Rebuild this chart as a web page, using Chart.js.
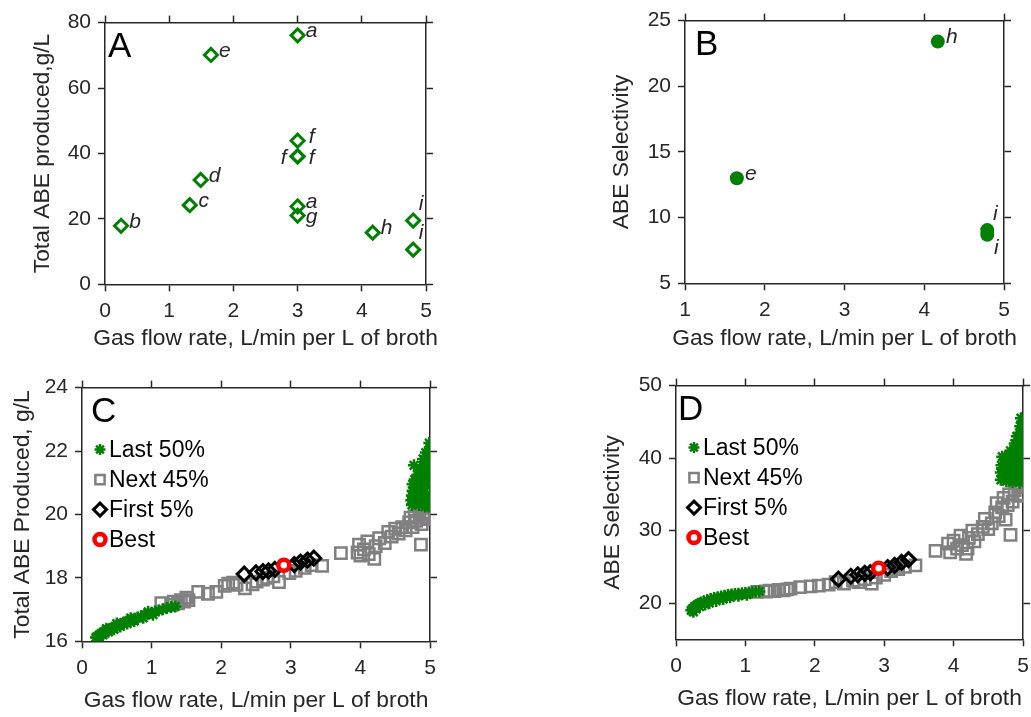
<!DOCTYPE html>
<html>
<head>
<meta charset="utf-8">
<script src="https://cdn.jsdelivr.net/npm/chart.js"></script>
<style>
  body { margin: 0; background: #fff; overflow: hidden; width: 1031px; height: 717px; position: relative; }
  canvas { position: absolute; }
</style>
</head>
<body>
<canvas id="panelA"></canvas>
<canvas id="panelB"></canvas>
<canvas id="panelC"></canvas>
<canvas id="panelD"></canvas>
<script>
// ---- data ----
// A: literature reports, total ABE produced (g/L) vs gas flow rate
const aFlow = [0.25, 1.32, 1.49, 1.65, 3.0, 3.0, 3.0, 3.0, 3.0, 3.0, 4.17, 4.80, 4.80];
const aAbe  = [17.9, 24.2, 31.9, 70.1, 76.1, 43.9, 39.1, 39.1, 23.8, 21.0, 15.8, 19.5, 10.6];
const aTags = ['b', 'c', 'd', 'e', 'a', 'f', 'f', 'f', 'a', 'g', 'h', 'i', 'i'];

// B: literature reports, ABE selectivity
const bFlow = [1.65, 4.17, 4.79, 4.79];
const bSel  = [13.0, 23.4, 9.05, 8.7];
const bTags = ['e', 'h', 'i', 'i'];

const xTicks05 = [0, 1, 2, 3, 4, 5];
const xTicks15 = [1, 2, 3, 4, 5];
const aYTicks = [0, 20, 40, 60, 80];
const bYTicks = [5, 10, 15, 20, 25];
const cYTicks = [16, 18, 20, 22, 24];
const dYTicks = [20, 30, 40, 50];

const groupNames = ['Last 50%', 'Next 45%', 'First 5%', 'Best'];

// C: total ABE produced, optimisation population
const cLastX = [0.20, 0.22, 0.25, 0.28, 0.31, 0.34, 0.37, 0.40, 0.44, 0.48, 0.52, 0.56, 0.60, 0.64, 0.68, 0.72, 0.76, 0.80, 0.85, 0.90, 0.95, 1.00, 1.05, 1.10, 1.16, 1.22, 1.28, 1.34,
                0.24, 0.30, 0.38, 0.46, 0.55, 0.65, 0.75, 0.88, 1.02, 0.35, 0.50, 0.70, 0.95,
                4.73, 4.74, 4.74, 4.75, 4.75, 4.76, 4.77, 4.78, 4.79, 4.80, 4.81, 4.82, 4.83, 4.84, 4.85, 4.86, 4.87, 4.88, 4.89, 4.90, 4.91, 4.92, 4.93, 4.94, 4.95,
                4.96, 4.96, 4.97, 4.97, 4.98, 4.98, 4.99, 4.99, 5.00, 5.00, 5.00, 5.00, 4.93, 4.98,
                4.78, 4.82, 4.86, 4.90, 4.94, 4.97, 4.99, 4.85, 4.91, 4.96, 5.00, 4.88, 4.95];
const cLastY = [16.12, 16.15, 16.2, 16.25, 16.29, 16.33, 16.36, 16.39, 16.43, 16.47, 16.51, 16.55, 16.59, 16.62, 16.65, 16.68, 16.71, 16.75, 16.79, 16.83, 16.87, 16.9, 16.94, 16.97, 17.01, 17.05, 17.08, 17.1,
                16.1, 16.2, 16.3, 16.38, 16.47, 16.56, 16.64, 16.74, 16.84, 16.4, 16.56, 16.73, 16.93,
                20.45, 20.3, 20.6, 20.75, 20.95, 20.5, 21.55, 20.35, 20.65, 20.85, 21.05, 21.25, 20.4, 20.3, 20.6, 20.9, 21.15, 21.35, 21.55, 20.4, 20.7, 21.0, 21.3, 21.6, 21.8,
                20.3, 20.6, 21.0, 21.4, 21.7, 22.0, 22.25, 20.5, 20.9, 21.3, 21.7, 22.1, 20.25, 20.25,
                21.1, 20.55, 21.4, 21.75, 21.95, 21.85, 21.5, 20.75, 21.15, 21.2, 21.5, 20.95, 20.45];
const cNextX = [1.14, 1.28, 1.32, 1.38, 1.42, 1.47, 1.50, 1.53, 1.67, 1.81, 1.93, 2.05, 2.10, 2.17, 2.22, 2.34, 2.45, 2.51, 2.60, 2.66, 2.75, 2.83, 2.98, 3.07, 3.20, 3.30, 3.45,
                3.72, 3.96, 3.98, 4.00, 4.05, 4.10, 4.12, 4.20, 4.22, 4.27, 4.35, 4.40, 4.45, 4.50, 4.55, 4.60, 4.65, 4.70, 4.72, 4.75, 4.78, 4.80, 4.85, 4.87, 4.88, 4.90, 4.93, 4.96, 4.98, 5.00];
const cNextY = [17.2, 17.15, 17.25, 17.2, 17.3, 17.25, 17.38, 17.3, 17.56, 17.5, 17.56, 17.75, 17.82, 17.85, 17.78, 17.67, 17.8, 17.88, 17.95, 18.0, 18.05, 17.87, 18.15, 18.22, 18.32, 18.4, 18.38,
                18.78, 18.8, 19.05, 18.7, 18.9, 19.15, 18.75, 18.6, 19.0, 19.25, 19.1, 19.45, 19.3, 19.55, 19.4, 19.6, 19.5, 19.75, 19.9, 19.6, 19.95, 19.8, 20.0, 19.05, 19.7, 19.9, 20.05, 19.85, 20.0, 19.9];
const cFirstX = [2.33, 2.50, 2.60, 2.68, 2.77, 3.05, 3.14, 3.24, 3.33];
const cFirstY = [18.12, 18.16, 18.2, 18.22, 18.27, 18.42, 18.5, 18.56, 18.62];
const cBestX = [2.90];
const cBestY = [18.4];

// D: ABE selectivity, optimisation population
const dLastX = [0.22, 0.24, 0.27, 0.30, 0.33, 0.36, 0.40, 0.45, 0.50, 0.55, 0.60, 0.65, 0.70, 0.75, 0.80, 0.85, 0.90, 0.95, 1.00, 1.05, 1.10, 1.15, 1.20,
                0.25, 0.29, 0.34, 0.42, 0.48, 0.58, 0.68, 0.78, 0.90, 1.02,
                4.68, 4.68, 4.69, 4.70, 4.72, 4.73, 4.75, 4.76, 4.78, 4.80, 4.80, 4.83, 4.84, 4.86, 4.87, 4.88, 4.90, 4.90, 4.92, 4.93, 4.94, 4.95, 4.96,
                4.97, 4.97, 4.98, 4.98, 4.99, 4.99, 5.00, 5.00, 5.00, 4.85, 4.95,
                4.70, 4.74, 4.77, 4.82, 4.86, 4.89, 4.92, 4.96, 4.99, 4.79, 4.84, 4.91, 4.97, 5.00, 4.88, 4.94];
const dLastY = [19.0, 19.25, 19.5, 19.7, 19.9, 20.05, 20.2, 20.4, 20.55, 20.7, 20.8, 20.9, 21.0, 21.1, 21.2, 21.25, 21.3, 21.35, 21.4, 21.45, 21.5, 21.55, 21.6,
                18.8, 19.2, 19.5, 19.8, 20.0, 20.3, 20.55, 20.8, 21.0, 21.15,
                37.0, 38.0, 39.0, 40.2, 37.5, 38.6, 39.6, 36.8, 38.0, 39.2, 40.5, 37.2, 38.5, 39.8, 41.0, 42.0, 37.0, 38.2, 39.5, 40.8, 42.3, 43.5, 44.4,
                37.5, 39.0, 40.5, 42.0, 43.2, 45.0, 38.0, 41.0, 44.0, 36.7, 36.6,
                38.6, 39.9, 37.9, 41.0, 40.6, 39.4, 41.6, 42.8, 44.3, 40.3, 37.6, 43.0, 45.5, 42.6, 38.9, 40.0];
const dNextX = [1.17, 1.30, 1.35, 1.42, 1.48, 1.55, 1.60, 1.65, 1.79, 1.94, 2.06, 2.20, 2.30, 2.42, 2.55, 2.63, 2.72, 2.82, 2.88, 3.00, 3.10, 3.20, 3.30, 3.45,
                3.74, 3.92, 3.95, 4.00, 4.05, 4.10, 4.12, 4.18, 4.20, 4.22, 4.27, 4.30, 4.35, 4.42, 4.45, 4.50, 4.55, 4.60, 4.62, 4.65, 4.70, 4.72, 4.75, 4.78, 4.80, 4.82,
                4.85, 4.88, 4.90, 4.93, 4.96, 5.00, 4.98];
const dNextY = [21.55, 21.6, 21.7, 21.65, 21.8, 21.75, 21.9, 22.0, 22.2, 22.3, 22.4, 22.55, 22.9, 22.7, 23.1, 22.9, 23.3, 22.7, 23.5, 23.9, 24.4, 24.7, 25.0, 25.2,
                27.2, 28.2, 27.0, 28.6, 27.5, 29.3, 28.0, 26.8, 27.5, 29.0, 30.0, 28.5, 29.5, 30.5, 31.6, 30.2, 31.0, 32.5, 33.8, 32.0, 33.2, 34.5, 31.5, 33.5, 35.0, 29.4,
                34.0, 35.6, 36.5, 34.8, 36.0, 35.0, 37.0];
const dFirstX = [2.34, 2.52, 2.62, 2.72, 2.80, 3.05, 3.15, 3.25, 3.35];
const dFirstY = [23.3, 23.7, 23.9, 24.1, 24.2, 24.9, 25.2, 25.6, 26.0];
const dBestX = [2.92];
const dBestY = [24.8];

// ---- styling ----
const FONT = 'Arial, "Liberation Sans", Helvetica, sans-serif';
const INK = '#262626';
const GREEN = 'rgb(0,128,0)';
const GREY = 'rgb(128,128,128)';
const TICK_PX = 21;
const TITLE_PX = 22.8;
const TITLE_LH = TITLE_PX * 1.2;
const X_TITLE = 'Gas flow rate, L/min per L of broth';

// label offsets next to the points in A and B
const tagShift = { r: [14, -4], rd: [14, 2], l: [-14, 2], u: [8, -16], d: [9, 13] };
const aTagPos = ['r', 'r', 'r', 'r', 'r', 'r', 'rd', 'l', 'r', 'rd', 'r', 'u', 'u'];
const bTagPos = ['r', 'r', 'u', 'd'];

function pts(xs, ys) {
  return xs.map((x, i) => ({ x: x, y: ys[i] }));
}

// panel letter, axis titles (drawn here so they are not squeezed), point tags, legend
function overlay(spec, xTitleDy, yTitleX) {
  return {
    id: 'overlay',
    afterDatasetsDraw(chart) {
      const ctx = chart.ctx;
      const area = chart.chartArea;
      ctx.save();

      ctx.fillStyle = INK;
      ctx.font = TITLE_PX + 'px ' + FONT;
      ctx.textAlign = 'center';
      ctx.textBaseline = 'middle';
      ctx.fillText(X_TITLE, (area.left + area.right) / 2, area.bottom + xTitleDy);
      ctx.save();
      ctx.translate(yTitleX, (area.top + area.bottom) / 2);
      ctx.rotate(-Math.PI / 2);
      ctx.fillText(spec.yTitle, 0, 0);
      ctx.restore();

      ctx.fillStyle = '#000';
      ctx.font = '35px ' + FONT;
      ctx.textAlign = 'left';
      ctx.textBaseline = 'alphabetic';
      ctx.fillText(spec.letter, area.left + spec.letterDx, area.top + 34);

      if (spec.tags) {
        const meta = chart.getDatasetMeta(0);
        ctx.font = 'italic 21px ' + FONT;
        ctx.textAlign = 'center';
        ctx.textBaseline = 'middle';
        ctx.fillStyle = INK;
        meta.data.forEach((el, i) => {
          const s = tagShift[spec.tagPos[i]];
          ctx.fillText(spec.tags[i], el.x + s[0], el.y + s[1]);
        });
      }

      if (spec.legend) {
        chart.data.datasets.forEach((ds, i) => {
          const y = area.top + 62 + i * 30;
          ctx.lineWidth = ds.pointBorderWidth;
          ctx.strokeStyle = ds.borderColor;
          ctx.fillStyle = ds.backgroundColor;
          Chart.helpers.drawPoint(ctx, { pointStyle: ds.pointStyle, radius: ds.legendRadius, borderWidth: ds.pointBorderWidth, rotation: 0 }, area.left + 18, y);
          ctx.fillStyle = '#000';
          ctx.font = '23px ' + FONT;
          ctx.textAlign = 'left';
          ctx.textBaseline = 'middle';
          ctx.fillText(ds.label, area.left + 27, y + 1);
        });
      }
      ctx.restore();
    }
  };
}

function axisPair(min, max, tickVals, main, size) {
  const line = { display: true, color: INK, width: 1.5 };
  const grid = { drawOnChartArea: false, drawTicks: true, tickLength: 7, tickColor: INK, tickWidth: 1.5 };
  const setTicks = (s) => { s.ticks = tickVals.map(v => ({ value: v })); };
  const mainAxis = {
    type: 'linear', position: main.pos, min: min, max: max,
    afterBuildTicks: setTicks,
    afterFit: (s) => { if (main.horizontal) s.height = size[0]; else s.width = size[0]; },
    border: line, grid: grid,
    ticks: { font: { family: FONT, size: TICK_PX }, color: INK, padding: 7 }
  };
  const mirror = {
    type: 'linear', position: main.mirror, min: min, max: max,
    afterBuildTicks: setTicks,
    afterFit: (s) => { if (main.horizontal) s.height = size[1]; else s.width = size[1]; },
    border: line, grid: grid,
    ticks: { display: false }
  };
  return [mainAxis, mirror];
}

function makePanel(id, box, spec) {
  const cl = Math.round(box.tx - TITLE_LH / 2);
  const ml = box.L - cl, mt = 12, mr = 24;
  const mb = box.ty - box.B + TITLE_LH / 2;
  const canvas = document.getElementById(id);
  canvas.width = ml + (box.R - box.L) + mr;
  canvas.height = Math.ceil(mt + (box.B - box.T) + mb);
  canvas.style.left = cl + 'px';
  canvas.style.top = (box.T - mt) + 'px';

  const [x, x2] = axisPair(spec.xMin, spec.xMax, spec.xTicks, { pos: 'bottom', mirror: 'top', horizontal: true }, [mb, mt]);
  const [y, y2] = axisPair(spec.yMin, spec.yMax, spec.yTicks, { pos: 'left', mirror: 'right', horizontal: false }, [ml, mr]);

  return new Chart(canvas, {
    type: 'scatter',
    data: { datasets: spec.datasets },
    options: {
      responsive: false,
      animation: false,
      devicePixelRatio: 1,
      layout: { padding: 0 },
      events: [],
      plugins: { legend: { display: false }, tooltip: { enabled: false } },
      scales: { x: x, x2: x2, y: y, y2: y2 }
    },
    plugins: [overlay(spec, box.ty - box.B, box.tx - cl)]
  });
}

function groupSets(lastX, lastY, nextX, nextY, firstX, firstY, bestX, bestY) {
  return [
    { label: groupNames[0], data: pts(lastX, lastY), pointStyle: 'star', pointRadius: 6, legendRadius: 5.5, pointBorderWidth: 2.5,
      borderColor: GREEN, backgroundColor: GREEN, order: 2 },
    { label: groupNames[1], data: pts(nextX, nextY), pointStyle: 'rect', pointRadius: 8, legendRadius: 6.5, pointBorderWidth: 2.5,
      borderColor: GREY, backgroundColor: 'rgba(0,0,0,0)', order: 3 },
    { label: groupNames[2], data: pts(firstX, firstY), pointStyle: 'rectRot', pointRadius: 7, legendRadius: 6.5, pointBorderWidth: 3,
      borderColor: '#000', backgroundColor: 'rgba(0,0,0,0)', order: 1 },
    { label: groupNames[3], data: pts(bestX, bestY), pointStyle: 'circle', pointRadius: 5.5, legendRadius: 5.5, pointBorderWidth: 4.5,
      borderColor: 'rgb(255,0,0)', backgroundColor: '#fff', order: 0 }
  ];
}

makePanel('panelA', { L: 105, R: 426, T: 15, B: 284, tx: 43, ty: 338 }, {
  xMin: 0, xMax: 5, xTicks: xTicks05, yMin: 0, yMax: 80, yTicks: aYTicks,
  yTitle: 'Total ABE produced,g/L', letter: 'A', letterDx: 3, tags: aTags, tagPos: aTagPos,
  datasets: [{ data: pts(aFlow, aAbe), pointStyle: 'rectRot', pointRadius: 6.5, pointBorderWidth: 3,
               borderColor: GREEN, backgroundColor: 'rgba(0,0,0,0)' }]
});

makePanel('panelB', { L: 685, R: 1004, T: 13, B: 283, tx: 622, ty: 338 }, {
  xMin: 1, xMax: 5, xTicks: xTicks15, yMin: 5, yMax: 25, yTicks: bYTicks,
  yTitle: 'ABE Selectivity', letter: 'B', letterDx: 10, tags: bTags, tagPos: bTagPos,
  datasets: [{ data: pts(bFlow, bSel), pointStyle: 'circle', pointRadius: 7, pointBorderWidth: 0,
               borderColor: GREEN, backgroundColor: GREEN }]
});

makePanel('panelC', { L: 82, R: 430, T: 380, B: 641, tx: 23, ty: 700 }, {
  xMin: 0, xMax: 5, xTicks: xTicks05, yMin: 16, yMax: 24, yTicks: cYTicks,
  yTitle: 'Total ABE Produced, g/L', letter: 'C', letterDx: 9, legend: true,
  datasets: groupSets(cLastX, cLastY, cNextX, cNextY, cFirstX, cFirstY, cBestX, cBestY)
});

makePanel('panelD', { L: 676, R: 1023, T: 378, B: 639, tx: 613, ty: 698 }, {
  xMin: 0, xMax: 5, xTicks: xTicks05, yMin: 15, yMax: 50, yTicks: dYTicks,
  yTitle: 'ABE Selectivity', letter: 'D', letterDx: 2, legend: true,
  datasets: groupSets(dLastX, dLastY, dNextX, dNextY, dFirstX, dFirstY, dBestX, dBestY)
});
</script>
</body>
</html>
